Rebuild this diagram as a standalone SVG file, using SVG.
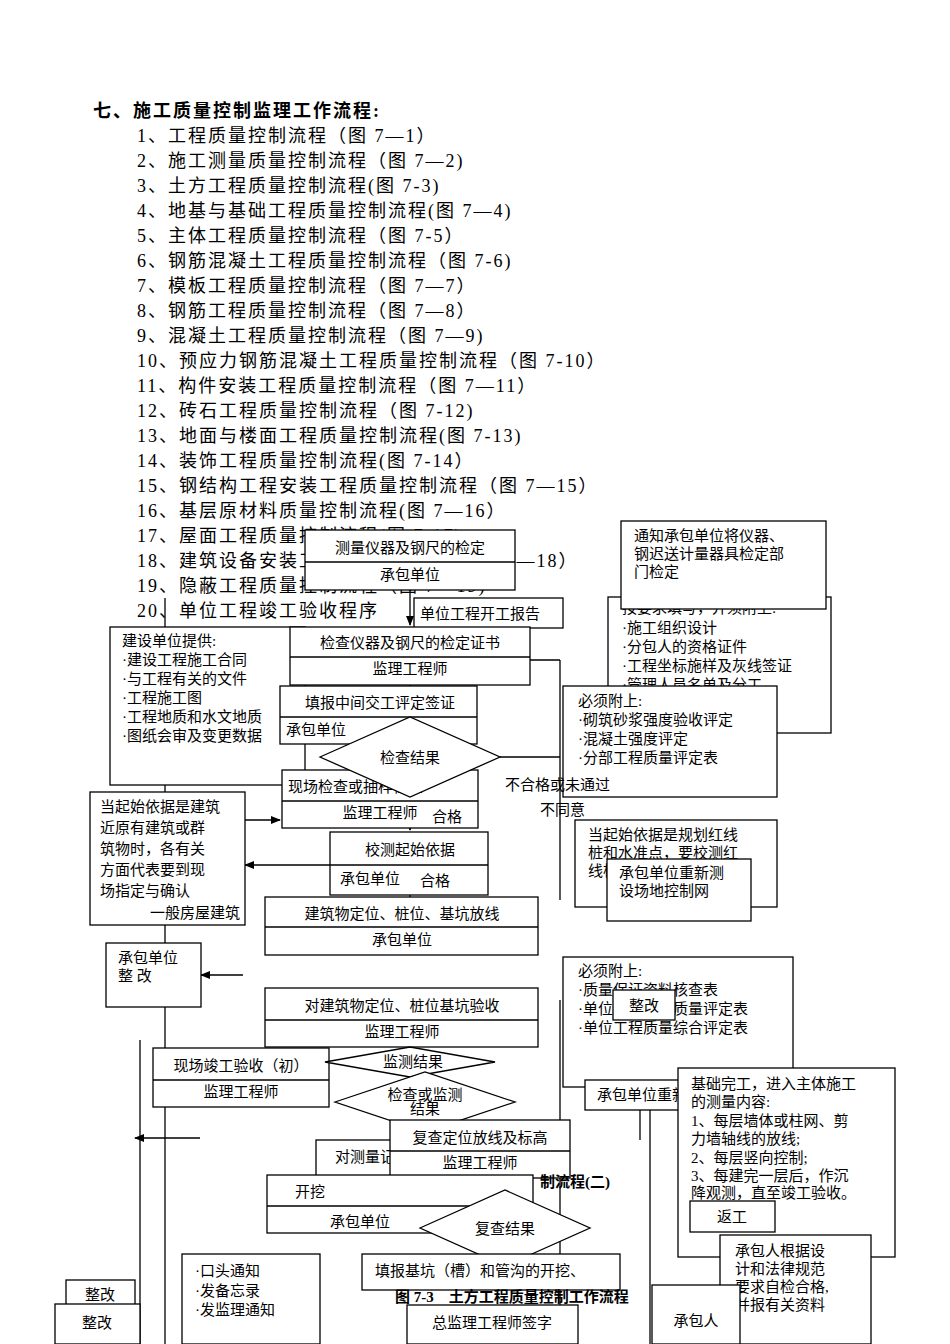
<svg xmlns="http://www.w3.org/2000/svg" width="950" height="1344" viewBox="0 0 950 1344">
<defs>
<marker id="ah" markerWidth="10" markerHeight="8" refX="9" refY="4" orient="auto" markerUnits="userSpaceOnUse"><path d="M0,0 L10,4 L0,8 z" fill="#000"/></marker>
<style>
.t{font-family:"Liberation Serif","Noto Sans CJK SC",serif;font-size:18px;letter-spacing:2px;fill:#000}
.s{font-family:"Liberation Serif","Noto Sans CJK SC",serif;font-size:15px;fill:#000}
.c{text-anchor:middle}
.b{fill:#fff;stroke:#000;stroke-width:1.3}
.l{fill:none;stroke:#000;stroke-width:1.3}
.a{fill:none;stroke:#000;stroke-width:1.3;marker-end:url(#ah)}
</style>
</defs>
<rect width="950" height="1344" fill="#fff"/>
<g id="list">
<text class="t" x="93" y="117" font-weight="bold">七、施工质量控制监理工作流程:</text>
<text class="t" x="137" y="142">1、工程质量控制流程（图 7—1）</text>
<text class="t" x="137" y="167">2、施工测量质量控制流程（图 7—2)</text>
<text class="t" x="137" y="192">3、土方工程质量控制流程(图 7-3)</text>
<text class="t" x="137" y="217">4、地基与基础工程质量控制流程(图 7—4)</text>
<text class="t" x="137" y="242">5、主体工程质量控制流程（图 7-5）</text>
<text class="t" x="137" y="267">6、钢筋混凝土工程质量控制流程（图 7-6)</text>
<text class="t" x="137" y="292">7、模板工程质量控制流程（图 7—7）</text>
<text class="t" x="137" y="317">8、钢筋工程质量控制流程（图 7—8）</text>
<text class="t" x="137" y="342">9、混凝土工程质量控制流程（图 7—9)</text>
<text class="t" x="137" y="367">10、预应力钢筋混凝土工程质量控制流程（图 7-10）</text>
<text class="t" x="137" y="392">11、构件安装工程质量控制流程（图 7—11）</text>
<text class="t" x="137" y="417">12、砖石工程质量控制流程（图 7-12)</text>
<text class="t" x="137" y="442">13、地面与楼面工程质量控制流程(图 7-13)</text>
<text class="t" x="137" y="467">14、装饰工程质量控制流程(图 7-14）</text>
<text class="t" x="137" y="492">15、钢结构工程安装工程质量控制流程（图 7—15）</text>
<text class="t" x="137" y="517">16、基层原材料质量控制流程(图 7—16）</text>
<text class="t" x="137" y="542">17、屋面工程质量控制流程(图 7-17)</text>
<text class="t" x="137" y="567">18、建筑设备安装工程质量控制流程（图 7—18）</text>
<text class="t" x="137" y="592">19、隐蔽工程质量控制流程（图 7—19)</text>
<text class="t" x="137" y="617">20、单位工程竣工验收程序</text>
</g>
<g id="connectors">
<line class="l" x1="165" y1="598" x2="165" y2="1344"/>
<line class="l" x1="140" y1="1040" x2="140" y2="1344"/>
<line class="a" x1="410" y1="590" x2="410" y2="625"/>
<line class="a" x1="410" y1="685" x2="410" y2="720"/>
<line class="a" x1="410" y1="797" x2="410" y2="830"/>
<line class="a" x1="410" y1="895" x2="410" y2="930"/>
<line class="a" x1="165" y1="820" x2="280" y2="820"/>
<line class="a" x1="330" y1="865" x2="245" y2="865"/>
<line class="a" x1="243" y1="975" x2="201" y2="975"/>
<line class="a" x1="200" y1="1138" x2="135" y2="1138"/>
<line class="l" x1="500" y1="757" x2="560" y2="757"/>
<line class="a" x1="560" y1="660" x2="478" y2="660"/>
<line class="l" x1="560" y1="660" x2="560" y2="900"/>
<line class="a" x1="640" y1="1140" x2="640" y2="1020"/>
<line class="a" x1="540" y1="1260" x2="600" y2="1260"/>
<line class="a" x1="410" y1="1047" x2="410" y2="1065"/>
<line class="a" x1="485" y1="1178" x2="485" y2="1195"/>
<line class="l" x1="560" y1="1000" x2="560" y2="1344"/>
<line class="l" x1="650" y1="1080" x2="650" y2="1344"/>
</g>
<g id="n1"><rect class="b" x="608" y="597" width="223" height="136"/>
<text class="s" x="622" y="613">按要求填写，并须附上:</text><text class="s" x="622" y="633">·施工组织设计</text><text class="s" x="622" y="652">·分包人的资格证件</text><text class="s" x="622" y="671">·工程坐标施样及灰线签证</text><text class="s" x="622" y="690">·管理人员名单及分工</text></g>
<g id="n2"><rect class="b" x="621" y="521" width="205" height="88"/>
<text class="s" x="634" y="541">通知承包单位将仪器、</text><text class="s" x="634" y="559">钢迟送计量器具检定部</text><text class="s" x="634" y="577">门检定</text></g>
<g id="n3"><rect class="b" x="305" y="530" width="210" height="60"/><line class="l" x1="305" y1="562" x2="515" y2="562"/>
<text class="s c" x="410" y="553">测量仪器及钢尺的检定</text><text class="s c" x="410" y="580">承包单位</text></g>
<g id="n4"><rect class="b" x="414" y="598" width="149" height="30"/><text class="s" x="420" y="619">单位工程开工报告</text></g>
<g id="n5"><rect class="b" x="110" y="627" width="195" height="158"/>
<text class="s" x="122" y="646">建设单位提供:</text><text class="s" x="122" y="665">·建设工程施工合同</text><text class="s" x="122" y="684">·与工程有关的文件</text><text class="s" x="122" y="703">·工程施工图</text><text class="s" x="122" y="722">·工程地质和水文地质</text><text class="s" x="122" y="741">·图纸会审及变更数据</text></g>
<g id="n6"><rect class="b" x="290" y="627" width="240" height="58"/><line class="l" x1="290" y1="657" x2="530" y2="657"/>
<text class="s c" x="410" y="648">检查仪器及钢尺的检定证书</text><text class="s c" x="410" y="674">监理工程师</text></g>
<g id="n7"><rect class="b" x="280" y="686" width="197" height="58"/><line class="l" x1="280" y1="717" x2="477" y2="717"/>
<text class="s c" x="380" y="708">填报中间交工评定签证</text><text class="s" x="286" y="735">承包单位</text></g>
<g id="n8"><rect class="b" x="563" y="686" width="214" height="111"/>
<text class="s" x="578" y="706">必须附上:</text><text class="s" x="578" y="725">·砌筑砂浆强度验收评定</text><text class="s" x="578" y="744">·混凝土强度评定</text><text class="s" x="578" y="763">·分部工程质量评定表</text></g>
<text class="s" x="505" y="790">不合格或未通过</text>
<g id="n9"><rect class="b" x="282" y="770" width="196" height="58"/><line class="l" x1="282" y1="801" x2="478" y2="801"/>
<text class="s" x="288" y="792">现场检查或抽样检查</text><text class="s c" x="380" y="818">监理工程师</text></g>
<g id="d1"><polygon class="b" points="320,757 410,717 500,757 410,797"/><text class="s c" x="410" y="763">检查结果</text></g>
<text class="s" x="540" y="815">不同意</text>
<text class="s" x="432" y="822">合格</text>
<g id="n10"><rect class="b" x="90" y="792" width="155" height="133"/>
<text class="s" x="100" y="812">当起始依据是建筑</text><text class="s" x="100" y="833">近原有建筑或群</text><text class="s" x="100" y="854">筑物时，各有关</text><text class="s" x="100" y="875">方面代表要到现</text><text class="s" x="100" y="896">场指定与确认</text></g>
<g id="n11"><rect class="b" x="330" y="832" width="158" height="63"/><line class="l" x1="330" y1="865" x2="488" y2="865"/>
<text class="s c" x="410" y="855">校测起始依据</text><text class="s" x="340" y="884">承包单位</text></g>
<text class="s" x="420" y="886">合格</text>
<g id="n12"><rect class="b" x="575" y="820" width="202" height="87"/>
<text class="s" x="588" y="840">当起始依据是规划红线</text><text class="s" x="588" y="858">桩和水准点，要校测红</text><text class="s" x="588" y="876">线桩</text></g>
<g id="n13"><rect class="b" x="607" y="859" width="144" height="62"/>
<text class="s" x="619" y="878">承包单位重新测</text><text class="s" x="619" y="896">设场地控制网</text></g>
<text class="s" x="150" y="918">一般房屋建筑</text>
<g id="n14"><rect class="b" x="265" y="897" width="273" height="58"/><line class="l" x1="265" y1="927" x2="538" y2="927"/>
<text class="s c" x="402" y="919">建筑物定位、桩位、基坑放线</text><text class="s c" x="402" y="945">承包单位</text></g>
<g id="n15"><rect class="b" x="106" y="943" width="95" height="64"/><text class="s" x="118" y="963">承包单位</text><text class="s" x="118" y="981">整 改</text></g>
<g id="n16"><rect class="b" x="563" y="957" width="230" height="130"/>
<text class="s" x="578" y="976">必须附上:</text><text class="s" x="578" y="995">·质量保证资料核查表</text><text class="s" x="578" y="1014">·单位工程观感质量评定表</text><text class="s" x="578" y="1033">·单位工程质量综合评定表</text></g>
<g id="n17"><rect class="b" x="613" y="990" width="62" height="30"/><text class="s c" x="644" y="1011">整改</text></g>
<g id="n18"><rect class="b" x="265" y="988" width="273" height="59"/><line class="l" x1="265" y1="1020" x2="538" y2="1020"/>
<text class="s c" x="402" y="1011">对建筑物定位、桩位基坑验收</text><text class="s c" x="402" y="1037">监理工程师</text></g>
<g id="n19"><rect class="b" x="153" y="1048" width="176" height="59"/><line class="l" x1="153" y1="1080" x2="329" y2="1080"/>
<text class="s c" x="241" y="1071">现场竣工验收（初）</text><text class="s c" x="241" y="1097">监理工程师</text></g>
<g id="d2"><polygon class="b" points="325,1062 410,1047 495,1062 410,1077"/><text class="s c" x="413" y="1067">监测结果</text></g>
<g id="n20"><rect class="b" x="585" y="1080" width="110" height="30"/><text class="s" x="597" y="1100">承包单位重新</text></g>
<g id="d3"><polygon class="b" points="335,1102 425,1072 515,1102 425,1132"/><text class="s c" x="425" y="1100" font-size="12">检查或监测</text><text class="s c" x="425" y="1114" font-size="12">结果</text></g>
<g id="n21"><rect class="b" x="316" y="1140" width="160" height="58"/><text class="s" x="335" y="1162">对测量记录</text></g>
<g id="n22"><rect class="b" x="390" y="1120" width="180" height="58"/><line class="l" x1="390" y1="1151" x2="570" y2="1151"/>
<text class="s c" x="480" y="1143">复查定位放线及标高</text><text class="s c" x="480" y="1168">监理工程师</text></g>
<g id="n23"><rect class="b" x="267" y="1175" width="266" height="58"/><line class="l" x1="267" y1="1206" x2="533" y2="1206"/>
<text class="s" x="295" y="1197">开挖</text><text class="s c" x="360" y="1227">承包单位</text></g>
<text class="s" x="540" y="1187" font-weight="bold" font-size="17">制流程(二)</text>
<g id="n24"><rect class="b" x="678" y="1068" width="217" height="189"/>
<text class="s" x="691" y="1089">基础完工，进入主体施工</text><text class="s" x="691" y="1107">的测量内容:</text><text class="s" x="691" y="1126">1、每层墙体或柱网、剪</text><text class="s" x="691" y="1144">力墙轴线的放线;</text><text class="s" x="691" y="1163">2、每层竖向控制;</text><text class="s" x="691" y="1181">3、每建完一层后，作沉</text><text class="s" x="691" y="1198">降观测，直至竣工验收。</text></g>
<g id="d4"><polygon class="b" points="420,1228 505,1190 590,1228 505,1266"/><text class="s c" x="505" y="1234">复查结果</text></g>
<g id="n25"><rect class="b" x="690" y="1201" width="85" height="31"/><text class="s c" x="732" y="1222">返工</text></g>
<g id="n26"><rect class="b" x="720" y="1235" width="151" height="109"/>
<text class="s" x="735" y="1256">承包人根据设</text><text class="s" x="735" y="1274">计和法律规范</text><text class="s" x="735" y="1292">要求自检合格,</text><text class="s" x="735" y="1310">并报有关资料</text></g>
<g id="n27"><rect class="b" x="182" y="1254" width="138" height="90"/>
<text class="s" x="195" y="1276">·口头通知</text><text class="s" x="195" y="1296">·发备忘录</text><text class="s" x="195" y="1315">·发监理通知</text></g>
<g id="n28"><rect class="b" x="362" y="1254" width="258" height="36"/><text class="s" x="375" y="1276">填报基坑（槽）和管沟的开挖、</text></g>
<g id="n29"><rect class="b" x="66" y="1280" width="69" height="30"/><text class="s c" x="100" y="1300">整改</text></g>
<g id="n30"><rect class="b" x="55" y="1304" width="85" height="40"/><text class="s c" x="97" y="1328">整改</text></g>
<g id="n31"><rect class="b" x="652" y="1285" width="88" height="59"/><text class="s c" x="696" y="1326">承包人</text></g>
<g id="n32"><rect class="b" x="407" y="1305" width="171" height="39"/><text class="s c" x="492" y="1328">总监理工程师签字</text></g>
<text class="s" x="395" y="1302" font-weight="bold" font-size="17">图 7-3　土方工程质量控制工作流程</text>
</svg>
